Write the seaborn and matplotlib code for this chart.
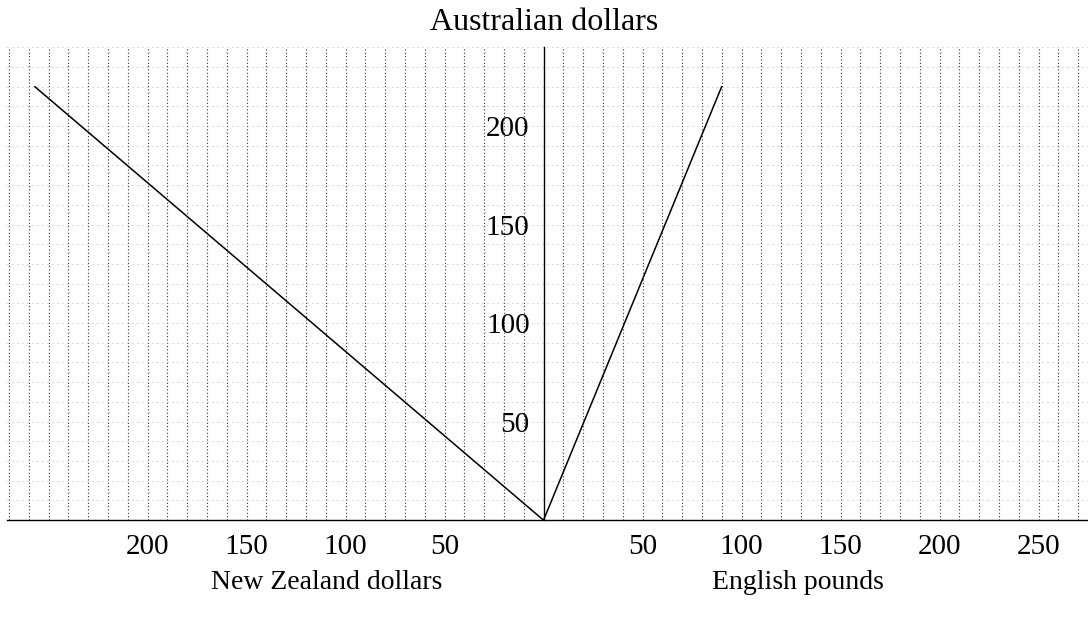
import numpy as np
import pandas as pd
import matplotlib
matplotlib.use('Agg')
import matplotlib.pyplot as plt
import seaborn as sns

# exchange-rate lines: Australian dollars against the other currency
aud = [0, 220]
nzd = [0, 257]
gbp = [0, 90]

left_ticks = [200, 150, 100, 50]
right_ticks = [50, 100, 150, 200, 250]
y_ticks = [50, 100, 150, 200]

sns.set_style('white')
plt.rcParams['font.family'] = ['Liberation Serif', 'DejaVu Serif']
plt.rcParams['text.color'] = 'black'

fig = plt.figure(figsize=(10.88, 6.2), dpi=100)
ax = fig.add_axes([0.0064, 0.161, 0.9936, 0.763])

# NZ dollars go to the left of the centre axis, so plot them as negative x
df_nz = pd.DataFrame({'x': [-v for v in nzd], 'y': aud})
df_gb = pd.DataFrame({'x': gbp, 'y': aud})
sns.lineplot(data=df_nz, x='x', y='y', ax=ax, color='black', lw=1.1)
sns.lineplot(data=df_gb, x='x', y='y', ax=ax, color='black', lw=1.1)

ax.set_xlim(-271, 275)
ax.set_ylim(0, 240)

# dotted grid every 10 units
for gx in range(-270, 276, 10):
    if gx != 0:
        ax.axvline(gx, color='#333333', ls=(0, (1, 2)), lw=0.8, zorder=0)
for gy in range(10, 241, 10):
    ax.axhline(gy, color='#999999', ls=(0, (1, 5)), lw=0.6, zorder=0)

for s in ['top', 'right']:
    ax.spines[s].set_visible(False)
ax.spines['left'].set_position(('data', 0))
ax.spines['bottom'].set_position(('data', 0))
ax.spines['left'].set_color('black')
ax.spines['bottom'].set_color('black')
ax.spines['left'].set_linewidth(1.0)
ax.spines['bottom'].set_linewidth(1.0)

xt = [-v for v in left_ticks] + right_ticks
ax.set_xticks(xt)
ax.set_xticklabels([str(abs(v)) for v in xt])
ax.set_yticks(y_ticks)
ax.set_yticklabels([str(v) for v in y_ticks])
ax.tick_params(axis='both', direction='inout', length=10, width=1, labelsize=21,
               colors='black', pad=5)
ax.set_xlabel('')
ax.set_ylabel('')

fig.text(0.5, 0.964, 'Australian dollars', ha='center', va='center', fontsize=23)
fig.text(0.30, 0.061, 'New Zealand dollars', ha='center', va='center', fontsize=20)
fig.text(0.733, 0.061, 'English pounds', ha='center', va='center', fontsize=20)

fig.savefig('out.png', dpi=100)
